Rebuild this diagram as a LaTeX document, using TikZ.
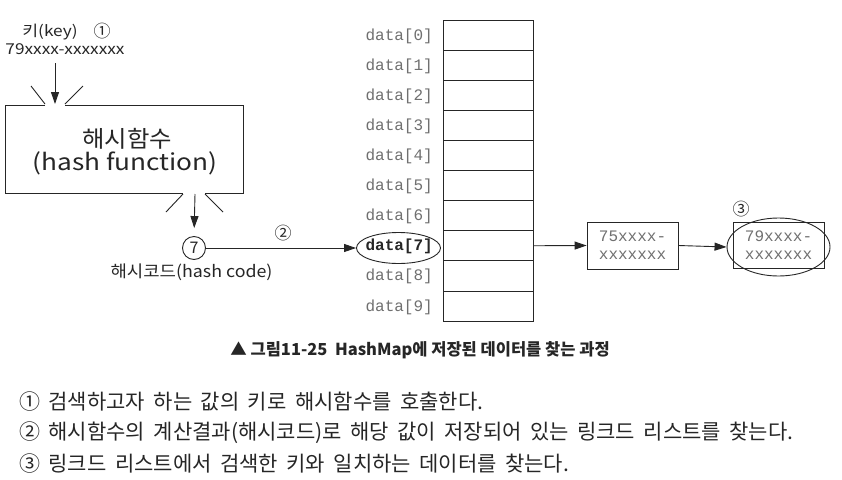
\documentclass[tikz,border=0pt]{standalone}
\usepackage{fontspec}
\setmainfont{Noto Sans CJK KR}
\newfontfamily\notefnt{Noto Sans CJK KR}[WordSpace=1.8]
\newfontfamily\monofnt{Liberation Mono}
\usetikzlibrary{arrows.meta,shapes.geometric}
\definecolor{ink}{HTML}{262626}
\definecolor{lbl}{HTML}{707070}
\begin{document}
\begin{tikzpicture}[x=1pt,y=-1pt,
  line/.style={draw=ink,line width=0.9pt},
  arr/.style={line,-{Triangle[length=12pt,width=8pt]}},
  txt/.style={inner sep=0pt,text=ink},
  circnum/.style={txt,font=\fontsize{17}{17}\selectfont},
  cell/.style={draw=ink,line width=0.8pt,minimum width=90pt,minimum height=30.1pt,inner sep=0pt},
  idx/.style={inner sep=0pt,anchor=east,text=lbl,font=\monofnt\fontsize{16}{16}\selectfont},
  listbox/.style={draw=ink,line width=0.8pt,minimum width=91pt,minimum height=47pt,inner sep=0pt,align=center,text=lbl,font=\monofnt\fontsize{16}{18}\selectfont},
  note/.style={txt,anchor=west,font=\notefnt\fontsize{21}{21}\selectfont}
]
\useasboundingbox (0,0) rectangle (842,479);
\fill[white] (0,0) rectangle (842,479);

% key
\node[txt,font=\fontsize{15}{15}\selectfont] (key) at (50,32) {\scalebox{1.15}[1]{키(key)}};
\node[circnum] (c1) at (102,31) {①};
\node[txt,font=\fontsize{15}{15}\selectfont] (keyval) at (65,49) {\scalebox{1.15}[1]{79xxxx-xxxxxxx}};
\coordinate (kin) at (55,63);
\coordinate (kout) at (55,104);
\draw[arr] (kin) -- (kout);

% hash function box
\draw[line] (45,105) -- (5,105) -- (5,193) -- (183,193);
\draw[line] (65,105) -- (243,105) -- (243,193) -- (205,193);
\draw[line] (31,86) -- (45,104);
\draw[line] (83,86) -- (65,104);
\draw[line] (183,194) -- (166,212);
\draw[line] (205,194) -- (223,212);
\node[txt,font=\fontsize{23}{23}\selectfont] (hf1) at (127,139) {\scalebox{1.06}[1]{해시함수}};
\node[txt,font=\fontsize{23}{23}\selectfont] (hf2) at (125,163) {\scalebox{1.14}[1]{(hash function)}};

% hash code
\node[draw=ink,line width=0.9pt,circle,minimum size=23pt,inner sep=0pt,text=ink,font=\fontsize{16}{16}\selectfont] (hc) at (194,248) {7};
\node[txt,font=\fontsize{16.5}{16.5}\selectfont] (hclbl) at (191.5,272) {\scalebox{1.08}[1]{해시코드(hash code)}};
\coordinate (hfout) at (195,194);
\draw[arr,shorten >=8pt] (hfout) -- (hc.north);

% data array
\foreach \i in {0,...,9}{
  \node[cell] (d\i) at (488,{20+(\i+0.5)*30.1}) {};
}
\foreach \i in {0,1,2,3,4,5,6,8,9}{
  \node[idx] (l\i) at (433,{21+(\i+0.5)*30.1}) {data[\i]};
}
\node[idx,text=ink] (l7) at (433,{21+7.5*30.1}) {\bfseries data[7]};
\node[draw=ink,line width=0.9pt,ellipse,minimum width=84pt,minimum height=31pt,inner sep=0pt] (e7) at (398.5,248) {};
\draw[arr] (hc.east) -- (e7.west);
\node[circnum] (c2) at (283,233) {②};

% linked list
\node[listbox] (n1) at (632.5,245.5) {75xxxx-\\xxxxxxx};
\node[listbox,minimum height=46pt] (n2) at (778.5,245) {79xxxx-\\xxxxxxx};
\node[draw=ink,line width=0.9pt,ellipse,minimum width=103pt,minimum height=58pt,inner sep=0pt] (e3) at (778.5,247) {};
\node[circnum] (c3) at (741,209) {③};
\draw[arr] (d7.east) -- (n1.west);
\draw[arr] (n1.east) -- (e3.west);

% caption
\node[txt,font=\bfseries\fontsize{16.5}{16.5}\selectfont] (cap) at (420,350) {▲ 그림11-25\ \ HashMap에 저장된 데이터를 찾는 과정};

% notes
\node[note] (t1) at (19,402) {① 검색하고자 하는 값의 키로 해시함수를 호출한다.};
\node[note] (t2) at (19,433) {② 해시함수의 계산결과(해시코드)로 해당 값이 저장되어 있는 링크드 리스트를 찾는다.};
\node[note] (t3) at (19,464) {③ 링크드 리스트에서 검색한 키와 일치하는 데이터를 찾는다.};
\end{tikzpicture}
\end{document}
